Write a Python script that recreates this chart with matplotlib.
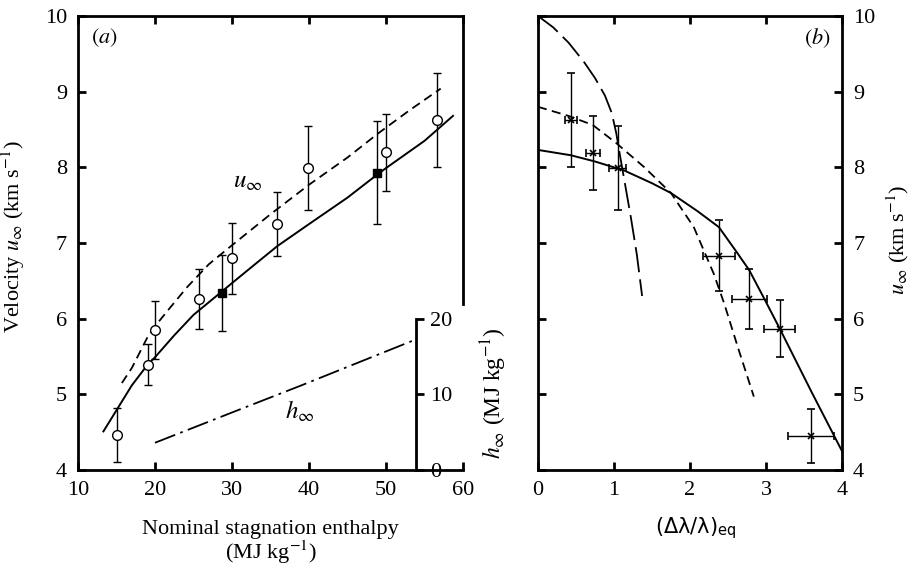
import matplotlib.pyplot as plt
import numpy as np

plt.rcParams['font.family'] = ['Liberation Serif', 'DejaVu Serif']
plt.rcParams['mathtext.fontset'] = 'stix'

# (a) measured velocity vs nominal stagnation enthalpy
circ_h = [15.1, 19.1, 20.0, 25.7, 30.0, 35.9, 39.9, 50.0, 56.6]
circ_u = [4.46, 5.39, 5.85, 6.26, 6.80, 7.25, 7.99, 8.20, 8.63]
circ_err = [0.36, 0.27, 0.38, 0.40, 0.47, 0.42, 0.55, 0.51, 0.62]

sq_h = [28.7, 48.8]
sq_u = [6.34, 7.93]
sq_err = [0.50, 0.68]

# solid and dashed curves of panel (a)
solid_a_x = [13.3, 15.0, 17.0, 19.1, 20.0, 22.5, 25.0, 28.7, 30.0, 33.0, 35.9, 40.0, 45.0, 48.8, 50.0, 55.0, 58.7]
solid_a_y = [4.51, 4.79, 5.12, 5.40, 5.49, 5.78, 6.05, 6.36, 6.47, 6.72, 6.96, 7.25, 7.60, 7.90, 7.99, 8.35, 8.68]
dash_a_x = [15.7, 17.0, 18.0, 19.0, 20.0, 22.0, 24.2, 27.0, 30.0, 35.0, 40.0, 45.0, 49.0, 53.0, 57.1]
dash_a_y = [5.15, 5.35, 5.55, 5.75, 5.90, 6.15, 6.42, 6.72, 6.97, 7.38, 7.77, 8.13, 8.45, 8.75, 9.04]

# free-stream enthalpy (inset scale, MJ/kg)
hinf_x = [20.0, 30.0, 38.8, 53.5]
hinf_y = [3.6, 7.6, 11.1, 17.1]

# (b) velocity vs (dlambda/lambda)_eq
pts_b_x = [0.43, 0.72, 1.05, 2.38, 2.78, 3.18, 3.59]
pts_b_y = [8.63, 8.19, 7.99, 6.83, 6.26, 5.87, 4.45]
pts_b_xerr = [0.08, 0.09, 0.11, 0.21, 0.23, 0.20, 0.30]
pts_b_yerr = [0.62, 0.49, 0.55, 0.47, 0.39, 0.38, 0.36]

long_b_x = [0.0, 0.2, 0.4, 0.6, 0.75, 0.88, 0.97, 1.03, 1.08, 1.15, 1.22, 1.30, 1.37]
long_b_y = [10.0, 9.85, 9.65, 9.40, 9.18, 8.95, 8.72, 8.45, 8.15, 7.75, 7.35, 6.85, 6.30]
short_b_x = [0.0, 0.4, 0.72, 1.03, 1.4, 1.75, 2.05, 2.31, 2.45, 2.64, 2.84]
short_b_y = [8.80, 8.68, 8.56, 8.32, 8.00, 7.66, 7.21, 6.60, 6.20, 5.59, 4.97]
solid_b_x = [0.0, 0.43, 0.74, 1.13, 1.5, 1.75, 2.1, 2.38, 2.6, 2.78, 3.0, 3.18, 3.6, 4.0]
solid_b_y = [8.23, 8.16, 8.08, 7.96, 7.79, 7.66, 7.42, 7.21, 6.90, 6.64, 6.22, 5.87, 5.03, 4.25]

fs = 16
W, H = 911, 569
fig = plt.figure(figsize=(W / 100, H / 100), dpi=100)
ax = fig.add_axes([78 / W, 99 / H, 385 / W, 454 / H])
bx = fig.add_axes([538 / W, 99 / H, 304 / W, 454 / H])

for a in (ax, bx):
    for s in a.spines.values():
        s.set_linewidth(2.0)
    a.tick_params(direction='in', length=6, width=2, labelsize=fs, pad=8,
                  top=True, bottom=True, left=True, right=True)

# ---- panel (a)
ax.errorbar(circ_h, circ_u, yerr=circ_err, fmt='o', mfc='white', mec='black',
            ms=7, mew=1.0, ecolor='black', elinewidth=1.0, capsize=3, zorder=4)
ax.errorbar(sq_h, sq_u, yerr=sq_err, fmt='s', mfc='black', mec='black',
            ms=6, ecolor='black', elinewidth=1.0, capsize=3, zorder=4)
ax.plot(solid_a_x, solid_a_y, color='black', lw=1.4)
ax.plot(dash_a_x, dash_a_y, color='black', lw=1.3, dashes=(5, 3))
ax.text(32.1, 7.8, r'$u_\infty$', fontsize=fs + 2, ha='center', va='center')
ax.text(38.8, 4.78, r'$h_\infty$', fontsize=fs + 2, ha='center', va='center')
ax.text(0.068, 0.952, '$(a)$', transform=ax.transAxes, fontsize=fs,
        ha='center', va='center')

ax.set_xlim(10, 60)
ax.set_ylim(4, 10)
ax.set_xticks([10, 20, 30, 40, 50, 60])
ax.set_yticks([4, 5, 6, 7, 8, 9, 10])
# right frame of (a) stops above the inset scale
ax.spines['right'].set_bounds(6.2, 10)
for t in ax.yaxis.get_major_ticks():
    if t.get_loc() < 6.5:
        t.tick2line.set_visible(False)
ax.set_ylabel(r'Velocity $u_\infty$ (km s$^{-1}$)', fontsize=fs)
ax.yaxis.set_label_coords(-0.132, 0.513)
ax.set_xlabel('Nominal stagnation enthalpy\n(MJ kg$^{-1}$)', fontsize=fs,
              linespacing=1.0)
ax.xaxis.set_label_coords(0.5, -0.11)
ax.xaxis.label.set_va('top')

# inset enthalpy axis
hx = ax.twinx()
hx.set_ylim(0, 60)
hx.plot(hinf_x, hinf_y, color='black', lw=1.3, dashes=(12, 3, 1.5, 3))
for k in ('top', 'left', 'bottom'):
    hx.spines[k].set_visible(False)
hx.spines['right'].set_position(('data', 53.9))
hx.spines['right'].set_bounds(0, 20)
hx.spines['right'].set_linewidth(2.0)
hx.set_yticks([0, 10, 20])
hx.tick_params(direction='out', length=6, width=2, labelsize=fs, pad=4)
hx.set_ylabel(r'$h_\infty$ (MJ kg$^{-1}$)', fontsize=fs + 1)
hx.yaxis.set_label_coords(1.04, 0.17)

# ---- panel (b)
bx.plot(long_b_x, long_b_y, color='black', lw=1.3, dashes=(14, 4))
bx.plot(short_b_x, short_b_y, color='black', lw=1.3, dashes=(5, 3))
bx.plot(solid_b_x, solid_b_y, color='black', lw=1.4)
bx.errorbar(pts_b_x, pts_b_y, xerr=pts_b_xerr, yerr=pts_b_yerr, fmt='x',
            color='black', ms=4, mew=1.2, elinewidth=1.0, capsize=3, zorder=4)
bx.text(0.918, 0.952, '$(b)$', transform=bx.transAxes, fontsize=fs,
        ha='center', va='center')

bx.set_xlim(0, 4)
bx.set_ylim(4, 10)
bx.set_xticks([0, 1, 2, 3, 4])
bx.set_yticks([4, 5, 6, 7, 8, 9, 10])
bx.tick_params(axis='y', labelleft=False, labelright=True)
bx.yaxis.set_label_position('right')
bx.set_ylabel(r'$u_\infty$ (km s$^{-1}$)', fontsize=fs)
bx.yaxis.set_label_coords(1.14, 0.507)
bx.set_xlabel(r'(Δλ/λ)$_{\mathregular{eq}}$', fontsize=fs - 1,
              family=['DejaVu Sans'])
bx.xaxis.set_label_coords(0.52, -0.1)
bx.xaxis.label.set_va('top')

fig.savefig('out.png', dpi=100)
